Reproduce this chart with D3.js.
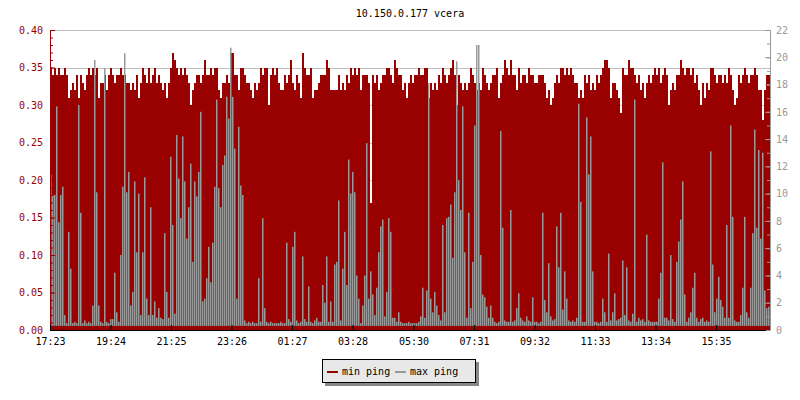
<!DOCTYPE html>
<html>
<head>
<meta charset="utf-8">
<script src="https://cdn.jsdelivr.net/npm/d3@7"></script>
<style>
  html, body { margin: 0; padding: 0; background: #ffffff; }
  svg { display: block; }
  text { font-family: "DejaVu Sans Mono", "Liberation Mono", monospace; font-size: 10px; }
</style>
</head>
<body>
<svg id="chart" width="800" height="400"></svg>
<script>
// ---------- data ----------
const chartTitle = "10.150.0.177 vcera";
const seriesNames = ["min ping", "max ping"];

// minutes after 17:23 where the x ticks sit, and their labels
const xTickMinutes = [0, 121, 242, 363, 484, 605, 727, 848, 969, 1090, 1211, 1332];
const xTickLabels = ["17:23", "19:24", "21:25", "23:26", "01:27", "03:28", "05:30", "07:31", "09:32", "11:33", "13:34", "15:35"];
const spanMinutes = 1440;

const leftTicks = [0, 0.05, 0.10, 0.15, 0.20, 0.25, 0.30, 0.35, 0.40];
const rightTicks = [0, 2, 4, 6, 8, 10, 12, 14, 16, 18, 20, 22];

// min ping (left axis), one value every 4 minutes
const minPing = [
  0.35,0.34,0.35,0.34,0.35,0.34,0.34,0.35,0.34,
  0.31,0.32,0.33,0.32,0.34,0.31,0.34,0.33,0.32,0.34,
  0.35,0.34,0.35,0.34,0.35,
  0.31,0.33,0.33,
  0.34,0.32,0.34,0.35,0.34,0.33,0.34,0.34,0.35,0.34,0.34,0.33,
  0.33,0.32,0.33,0.32,0.34,0.31,0.33,
  0.35,0.34,0.33,0.35,0.33,0.34,0.35,0.33,0.34,0.33,
  0.32,0.33,0.31,0.33,
  0.35,0.37,0.36,0.35,0.34,0.35,0.34,0.35,0.34,
  0.33,0.30,0.32,

  0.33,0.34,0.34,0.33,0.34,0.36,0.34,0.34,0.35,0.34,
  0.35,0.35,0.32,0.31,0.33,0.33,0.34,0.33,0.37,0.37,
  0.34,0.34,0.32,0.35,0.35,0.34,0.33,0.33,0.32,0.31,
  0.33,0.32,0.33,0.35,0.34,0.35,0.35,0.30,0.34,0.35,
  0.34,0.35,0.33,0.32,0.32,0.34,0.33,0.34,0.36,0.33,
  0.32,0.34,0.33,0.31,0.37,0.35,0.34,0.34,0.35,0.31,
  0.32,0.32,0.33,0.34,0.34,0.34,0.36,0.35,0.32,0.32,
  0.32,0.32,

  0.34,0.32,0.33,0.32,0.34,0.33,0.35,0.34,0.35,0.34,
  0.35,0.32,0.34,0.34,0.34,0.33,0.17,0.34,0.33,0.34,
  0.32,0.33,0.34,0.34,0.35,0.35,0.34,0.33,0.36,0.35,
  0.34,0.34,0.32,0.33,0.31,0.33,0.34,0.33,0.34,0.34,
  0.35,0.34,0.34,0.35,0.35,0.31,0.33,0.32,0.33,0.32,
  0.34,0.33,0.35,0.34,0.33,0.34,0.35,0.36,0.34,0.30,
  0.34,0.33,0.32,0.33,0.32,0.33,0.35,0.34,0.33,0.32,
  0.33,0.32,

  0.35,0.34,0.33,0.32,0.33,0.34,0.34,0.35,0.31,0.33,
  0.34,0.36,0.35,0.34,0.36,0.34,0.34,0.32,0.35,0.33,
  0.34,0.34,0.33,0.35,0.34,0.34,0.33,0.33,0.34,0.34,
  0.34,0.33,0.31,0.32,0.30,0.31,0.33,0.34,0.33,0.35,
  0.35,0.34,0.35,0.34,0.35,0.34,0.33,0.33,0.31,0.32,
  0.31,0.34,0.33,0.34,0.32,0.33,0.32,0.34,0.33,0.34,
  0.35,0.36,0.36,0.35,0.31,0.33,0.33,0.32,0.31,0.29,
  0.35,0.34,

  0.34,0.36,0.35,0.35,0.34,0.33,0.34,0.32,0.33,0.31,
  0.33,0.34,0.33,0.34,0.35,0.34,0.35,0.33,0.34,0.35,
  0.34,0.30,0.32,0.33,0.32,0.34,0.34,0.36,0.35,0.34,
  0.35,0.35,0.34,0.35,0.33,0.34,0.32,0.30,0.33,0.31,
  0.33,0.32,0.35,0.35,0.34,0.33,0.34,0.34,0.33,0.34,
  0.33,0.35,0.34,0.32,0.30,0.31,0.34,0.33,0.34,0.35,
  0.34,0.33,0.34,0.34,0.35,0.34,0.32,0.32,0.28,0.32,
  0.34,0.34
];

// max ping (right axis), one value every 4 minutes
const maxPing = [
  11.4,9.9,9.9,16.4,7.9,9.9,10.5,1.1,0.5,7.2,
  4.5,0.5,0.6,0.5,16.5,8.6,0.5,0.7,0.5,0.6,
  0.5,1.8,19.8,10.1,1.8,0.6,0.5,19.2,0.6,0.5,
  0.8,0.8,4.2,1.3,0.6,5.5,10.5,20.3,10.1,11.6,
  1.8,2.8,10.9,5.7,10.0,1.1,5.7,11.2,2.3,1.1,
  9.0,1.1,2.1,0.9,1.6,0.9,0.8,7.1,2.8,0.9,
  12.7,7.7,1.2,14.3,11.1,8.2,14.2,10.9,6.7,9.0,
  12.2,5.0,

  10.9,9.8,11.6,16.0,2.1,2.3,3.8,6.1,3.5,6.4,
  10.5,16.9,10.4,9.0,12.1,12.8,17.1,15.5,20.7,17.1,
  13.3,2.3,14.9,10.6,9.9,0.7,0.5,0.6,0.5,0.6,
  0.5,0.5,3.8,0.6,8.2,1.6,0.6,0.5,0.6,0.5,
  0.5,0.5,0.5,0.6,0.5,0.5,6.4,0.8,0.6,6.1,
  7.2,0.7,0.5,0.6,5.4,0.8,0.6,3.2,0.6,0.5,
  0.7,0.9,0.6,0.6,3.3,2.0,5.4,0.6,2.1,0.6,
  4.8,5.0,

  9.5,0.7,4.5,7.2,3.3,12.5,10.0,11.6,10.1,4.0,
  2.3,0.5,1.8,4.0,13.7,2.3,4.3,2.6,1.1,3.1,
  5.7,7.6,8.1,1.0,2.8,8.2,7.2,0.9,0.9,0.6,
  1.3,0.6,0.5,0.5,0.5,0.6,0.5,0.5,0.5,0.5,
  0.6,1.0,3.1,0.9,2.9,18.1,2.3,1.3,2.8,1.8,
  1.1,0.7,7.7,1.3,8.2,8.3,9.2,5.3,10.1,19.7,
  11.0,8.8,16.4,5.7,0.9,8.6,1.6,5.0,15.0,20.9,
  20.9,5.5,

  2.6,2.4,1.7,0.9,1.8,0.9,0.6,0.5,0.6,14.6,
  7.5,0.7,0.6,0.6,8.8,0.6,0.7,1.6,2.7,0.9,
  0.7,0.6,1.0,0.7,0.6,2.4,0.6,0.6,0.5,0.6,
  8.6,2.2,1.3,4.9,1.0,0.7,0.8,7.6,4.6,8.6,
  1.5,4.3,2.3,0.7,0.6,0.7,0.6,0.9,16.6,9.4,
  0.6,0.6,15.6,11.4,14.2,4.3,0.6,0.6,0.5,0.6,
  2.3,1.3,0.6,5.6,0.7,1.3,2.7,0.7,0.8,0.9,
  5.1,1.1,

  4.6,0.7,0.6,1.2,16.9,0.6,0.9,0.7,0.8,0.6,
  7.0,0.7,0.6,0.6,0.6,0.6,2.3,4.2,12.3,0.9,
  0.9,0.7,5.5,0.8,0.6,5.0,6.5,8.1,10.9,2.6,
  0.6,0.9,1.3,3.1,4.2,0.9,0.6,0.8,0.9,0.6,
  0.7,0.6,13.1,4.8,1.3,2.3,3.9,2.2,1.7,0.9,
  7.7,0.9,15.0,8.3,0.7,0.6,0.6,1.1,3.1,8.3,
  1.3,0.9,3.1,7.1,14.7,7.5,13.2,6.7,13.0,2.9,
  1.6,1.7
];

// ---------- drawing ----------
const RED = "#990000", GRAY = "#999999";
const plotLeft = 50, plotRight = 770, plotTop = 30, plotBottom = 330;

const svg = d3.select("#chart");
svg.append("rect").attr("width", 800).attr("height", 400).attr("fill", "#ffffff");

const x = d3.scaleLinear().domain([0, spanMinutes]).range([plotLeft, plotRight]);
const yL = d3.scaleLinear().domain([0, 0.40]).range([plotBottom, plotTop]);
const yR = d3.scaleLinear().domain([0, 22]).range([plotBottom, plotTop]);

// grid lines (behind the data)
svg.append("g").selectAll("line").data(leftTicks.filter(d => d > 0)).join("line")
  .attr("x1", plotLeft).attr("x2", plotRight)
  .attr("y1", d => Math.round(yL(d)) + 0.5).attr("y2", d => Math.round(yL(d)) + 0.5)
  .attr("stroke", "#c0c0c0").attr("stroke-width", 1);

// min ping bars
const stepMin = spanMinutes / minPing.length;
svg.append("g").attr("shape-rendering", "crispEdges").selectAll("rect").data(minPing).join("rect")
  .attr("x", (d, i) => x(i * stepMin))
  .attr("width", (d, i) => x((i + 1) * stepMin) - x(i * stepMin))
  .attr("y", d => yL(d))
  .attr("height", d => yL(0) - yL(d))
  .attr("fill", RED);

// max ping: thin vertical strokes per sample (like a 1px line graph)
const stepMax = spanMinutes / maxPing.length;
const grayFloor = 0.3;
svg.append("g").selectAll("rect").data(maxPing).join("rect")
  .attr("x", (d, i) => x(i * stepMax))
  .attr("width", (d, i) => (x((i + 1) * stepMax) - x(i * stepMax)) * 0.75)
  .attr("y", d => yR(d))
  .attr("height", d => Math.max(1.5, yR(grayFloor) - yR(d)))
  .attr("fill", GRAY);

// left axis (red)
const gL = svg.append("g").attr("transform", `translate(${plotLeft},0)`);
gL.call(d3.axisLeft(yL).tickValues(d3.range(0, 0.4001, 0.01)).tickSizeInner(-3).tickSizeOuter(0).tickFormat(""));
const gL2 = svg.append("g").attr("transform", `translate(${plotLeft},0)`);
gL2.call(d3.axisLeft(yL).tickValues(leftTicks).tickSizeInner(-5).tickSizeOuter(0).tickPadding(7).tickFormat(d3.format(".2f")));
[gL, gL2].forEach(g => {
  g.select(".domain").attr("stroke", RED);
  g.selectAll(".tick line").attr("stroke", RED);
  g.selectAll("text").attr("fill", RED).style("font-family", "DejaVu Sans Mono").style("font-size", "10px");
});

// right axis (gray)
const gR = svg.append("g").attr("transform", `translate(${plotRight},0)`);
gR.call(d3.axisRight(yR).tickValues(d3.range(0, 23, 1)).tickSizeInner(-3).tickSizeOuter(0).tickFormat(""));
const gR2 = svg.append("g").attr("transform", `translate(${plotRight},0)`);
gR2.call(d3.axisRight(yR).tickValues(rightTicks).tickSizeInner(-5).tickSizeOuter(0).tickPadding(6).tickFormat(d3.format("d")));
[gR, gR2].forEach(g => {
  g.select(".domain").attr("stroke", GRAY);
  g.selectAll(".tick line").attr("stroke", GRAY);
  g.selectAll("text").attr("fill", GRAY).style("font-family", "DejaVu Sans Mono").style("font-size", "10px");
});

// bottom axis (black)
const gX = svg.append("g").attr("transform", `translate(0,${plotBottom})`);
gX.call(d3.axisBottom(x).tickValues(xTickMinutes).tickSizeInner(-5).tickSizeOuter(0).tickPadding(8)
  .tickFormat((d, i) => xTickLabels[i]));
gX.select(".domain").remove();
gX.selectAll(".tick line").attr("stroke", "#000");
gX.selectAll("text").attr("fill", "#000").style("font-family", "DejaVu Sans Mono").style("font-size", "10px");
svg.append("line").attr("x1", plotLeft).attr("x2", plotRight - 4).attr("y1", plotBottom + 0.5).attr("y2", plotBottom + 0.5)
  .attr("stroke", "#000").attr("stroke-width", 1.2);

// title
svg.append("text").attr("x", (plotLeft + plotRight) / 2).attr("y", 17).attr("text-anchor", "middle")
  .attr("fill", "#000").text(chartTitle);

// legend
const lg = svg.append("g").attr("shape-rendering", "crispEdges");
lg.append("rect").attr("x", 325).attr("y", 362).attr("width", 154).attr("height", 24).attr("fill", "#888888");
lg.append("rect").attr("x", 322.5).attr("y", 359.5).attr("width", 153).attr("height", 23)
  .attr("fill", "#e8e8e8").attr("stroke", "#000").attr("stroke-width", 1);
const legendItems = [
  { name: seriesNames[0], color: RED, x: 327 },
  { name: seriesNames[1], color: GRAY, x: 395 }
];
legendItems.forEach(it => {
  lg.append("line").attr("x1", it.x).attr("x2", it.x + 11).attr("y1", 372).attr("y2", 372)
    .attr("stroke", it.color).attr("stroke-width", 2);
  svg.append("text").attr("x", it.x + 15).attr("y", 375).attr("fill", "#000").text(it.name);
});
</script>
</body>
</html>
